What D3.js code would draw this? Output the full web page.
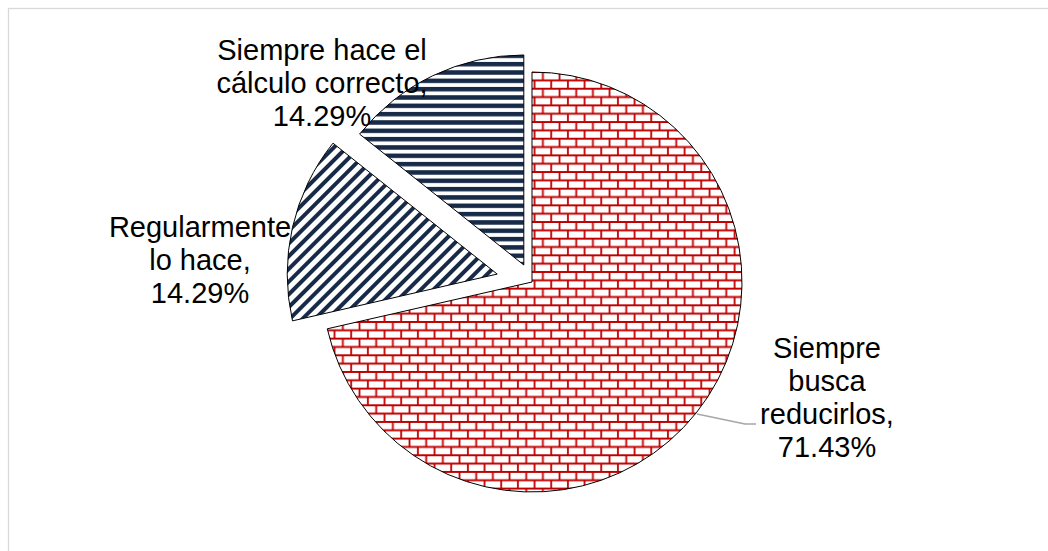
<!DOCTYPE html>
<html>
<head>
<meta charset="utf-8">
<script src="https://cdn.jsdelivr.net/npm/d3@7"></script>
<style>
  body { margin: 0; background: #fff; }
  svg { display: block; }
</style>
</head>
<body>
<div id="pie_chart"></div>
<script>
// values
const categories = ["Siempre busca reducirlos", "Regularmente lo hace", "Siempre hace el cálculo correcto"];
const values = [71.43, 14.29, 14.29];
const labelLines = [
  ["Siempre", "busca", "reducirlos,"],
  ["Regularmente", "lo hace,"],
  ["Siempre hace el", "cálculo correcto,"]
];

const width = 1048, height = 551;
const cx = 532, cy = 282, radius = 210;
// how far each slice is pulled out, as a share of the radius
const explode = [0, 0.17, 0.09];
const fills = ["url(#bricks)", "url(#diag)", "url(#hstripes)"];
const navy = "#172b48";

const svg = d3
  .select("#pie_chart")
  .append("svg")
  .attr("width", width)
  .attr("height", height);

// chart area border (runs off the right and bottom edge)
svg.append("rect")
  .attr("x", 8.5)
  .attr("y", 8.5)
  .attr("width", 1200)
  .attr("height", 800)
  .attr("fill", "none")
  .attr("stroke", "#d9d9d9")
  .attr("stroke-width", 1.3);

const defs = svg.append("defs");

// brick pattern
const bw = 16.67, bh = 8.33;
const bricks = defs.append("pattern")
  .attr("id", "bricks")
  .attr("patternUnits", "userSpaceOnUse")
  .attr("width", bw)
  .attr("height", bh * 2)
  .attr("patternTransform", `translate(${536 % bw},${73.3 % (bh * 2)})`);
bricks.append("rect").attr("width", bw).attr("height", bh * 2).attr("fill", "#fff");
const bp = `M0,0H${bw}M0,${bh}H${bw}M0,${bh * 2}H${bw}` +
  `M0,${bh}V${bh * 2}M${bw},${bh}V${bh * 2}M${bw / 2},0V${bh}`;
bricks.append("path").attr("d", bp).attr("stroke", "#c00000").attr("stroke-width", 1.8).attr("fill", "none");

// wide upward diagonal
const dp = 9;
const diag = defs.append("pattern")
  .attr("id", "diag")
  .attr("patternUnits", "userSpaceOnUse")
  .attr("width", dp)
  .attr("height", dp)
  .attr("patternTransform", "rotate(-45)");
diag.append("rect").attr("width", dp).attr("height", dp).attr("fill", "#fff");
diag.append("rect").attr("y", 0).attr("width", dp).attr("height", 4).attr("fill", navy);

// horizontal stripes
const hp = 8.33;
const hs = defs.append("pattern")
  .attr("id", "hstripes")
  .attr("patternUnits", "userSpaceOnUse")
  .attr("width", 10)
  .attr("height", hp)
  .attr("patternTransform", `translate(0,${63.5 % hp})`);
hs.append("rect").attr("width", 10).attr("height", hp).attr("fill", "#fff");
hs.append("rect").attr("width", 10).attr("height", 4.5).attr("fill", navy);

const pie = d3.pie().sort(null).value((d) => d)(values);
const arc = d3.arc().innerRadius(0).outerRadius(radius);

const g = svg.append("g").attr("transform", `translate(${cx},${cy})`);

g.selectAll("path.slice")
  .data(pie)
  .join("path")
  .attr("class", "slice")
  .attr("d", arc)
  .attr("transform", (d, i) => {
    const a = (d.startAngle + d.endAngle) / 2;
    const off = explode[i] * radius;
    return `translate(${Math.sin(a) * off},${-Math.cos(a) * off})`;
  })
  .attr("fill", (d, i) => fills[i])
  .attr("stroke", "#000")
  .attr("stroke-width", 1);

// leader line for the big slice
svg.append("polyline")
  .attr("points", "697,414 745,424 756,424")
  .attr("fill", "none")
  .attr("stroke", "#a6a6a6")
  .attr("stroke-width", 1.3);

// data labels: x center, first baseline
const labelPos = [
  [827, 358],
  [200, 237],
  [322, 60]
];
const lineH = 33;
const fmt = d3.format(".2f");

labelLines.forEach((lines, i) => {
  const all = lines.concat([fmt(values[i]) + "%"]);
  const t = svg.append("text")
    .attr("text-anchor", "middle")
    .style("font-family", "'Liberation Sans', Arial, sans-serif")
    .style("font-size", "29px")
    .attr("fill", "#000");
  all.forEach((s, j) => {
    t.append("tspan")
      .attr("x", labelPos[i][0])
      .attr("y", labelPos[i][1] + j * lineH)
      .text(s);
  });
});
</script>
</body>
</html>
